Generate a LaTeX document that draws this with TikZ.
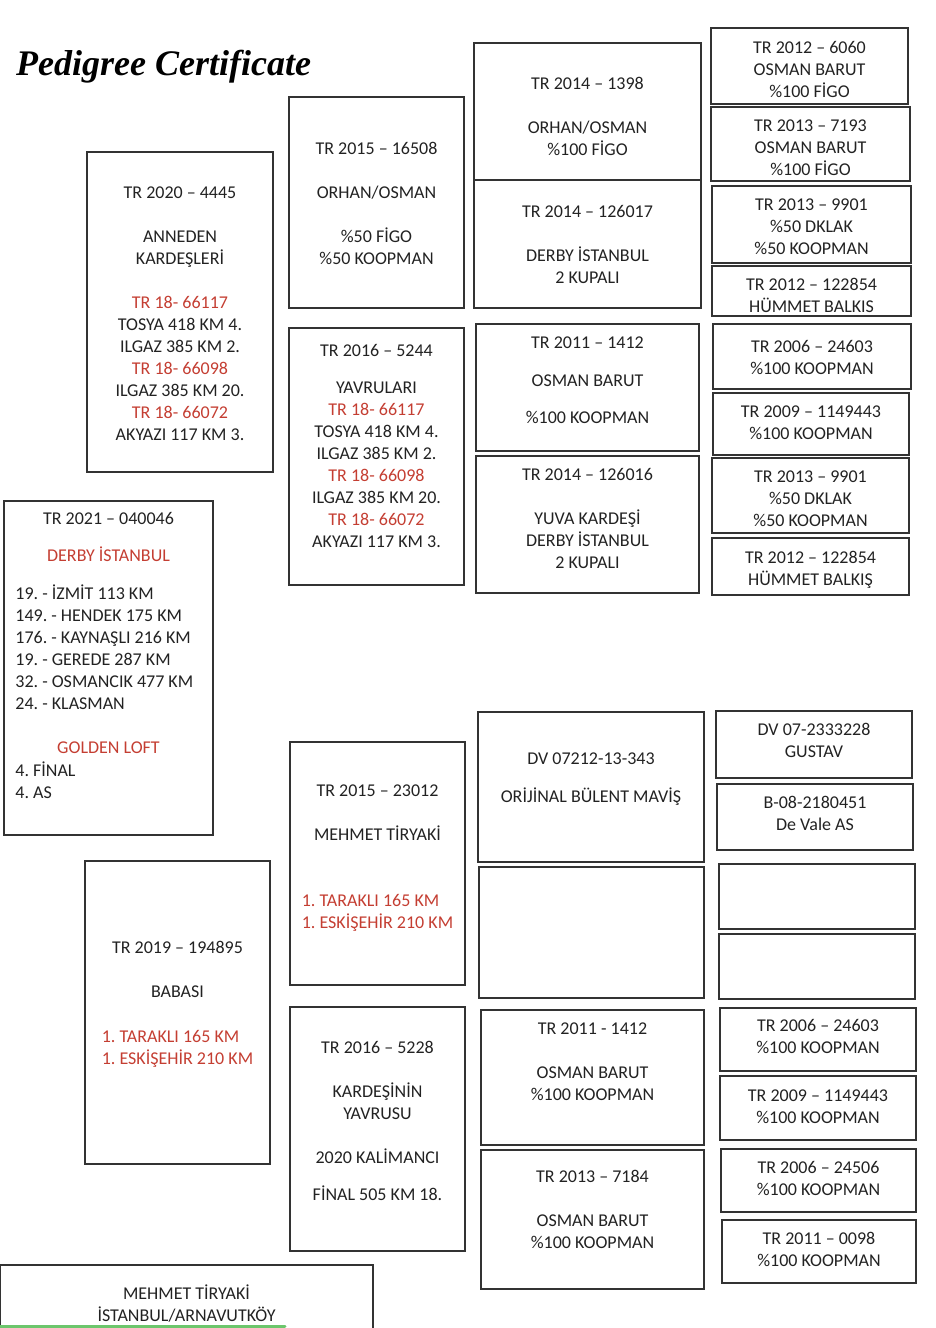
\documentclass[tikz,border=0pt]{standalone}
\usepackage{fontspec}
\setmainfont{Carlito}
\newfontfamily\titlefont{Liberation Serif}
\usetikzlibrary{positioning}

\definecolor{certred}{RGB}{196,62,50}
\definecolor{certgreen}{RGB}{108,198,108}
\definecolor{certink}{RGB}{34,34,34}

\tikzset{
  cell/.style={draw=black!80, line width=1.6pt, inner sep=0pt},
  txt/.style={anchor=north, inner sep=0pt, align=center, text=certink,
    font=\fontsize{18}{22}\selectfont\frenchspacing,
    execute at begin node={\rule{0pt}{15pt}}},
  lst/.style={txt, anchor=north west, align=left},
  heading/.style={anchor=base west, inner sep=0pt,
    font=\titlefont\bfseries\itshape\fontsize{36}{40}\selectfont}
}
\newcommand{\rd}[1]{\textcolor{certred}{#1}}

\begin{document}
\begin{tikzpicture}[x=1pt,y=-1pt]
  \useasboundingbox (0,0) rectangle (936,1328);
  \clip (0,0) rectangle (936,1328);

  % baslik
  \node[heading] (title) at (16,75) {Pedigree Certificate};

  % 1. sutun
  \node[cell, minimum width=186, minimum height=320] (anne) at (180,312) {};
  \node[cell, minimum width=209, minimum height=334] (bird) at (108.5,668) {};
  \node[cell, minimum width=185, minimum height=303] (sire) at (177.5,1012.5) {};
  \node[cell, minimum width=373, minimum height=95] (owner) at (186.5,1312.5) {};

  \node[txt, below=35pt of anne.north] (anneT) {TR 2020 -- 4445\\[22pt]
    ANNEDEN\\KARDEŞLERİ\\[22pt]
    \rd{TR 18- 66117}\\TOSYA 418 KM 4.\\ILGAZ 385 KM 2.\\
    \rd{TR 18- 66098}\\ILGAZ 385 KM 20.\\
    \rd{TR 18- 66072}\\AKYAZI 117 KM 3.};

  \node[txt, below=9pt of bird.north] (birdT) {TR 2021 -- 040046};
  \node[txt, below=46pt of bird.north] (birdR) {\rd{DERBY İSTANBUL}};
  \node[lst, below right=84pt and 12pt of bird.north west] (birdL) {19. - İZMİT 113 KM\\
    149. - HENDEK 175 KM\\176. - KAYNAŞLI 216 KM\\19. - GEREDE 287 KM\\
    32. - OSMANCIK 477 KM\\24. - KLASMAN};
  \node[txt, below=238pt of bird.north] (birdG) {\rd{GOLDEN LOFT}};
  \node[lst, below right=261pt and 12pt of bird.north west] (birdF) {4. FİNAL\\4. AS};

  \node[txt, below=81pt of sire.north] (sireT) {TR 2019 -- 194895\\[22pt]BABASI};
  \node[lst, anchor=north, below=170pt of sire.north] (sireR)
    {\rd{1. TARAKLI 165 KM}\\\rd{1. ESKİŞEHİR 210 KM}};

  \node[txt, below=20pt of owner.north] (ownerT) {MEHMET TİRYAKİ\\İSTANBUL/ARNAVUTKÖY};

  % 2. sutun
  \node[cell, minimum width=175, minimum height=211] (s1) at (376.5,202.5) {};
  \node[cell, minimum width=175, minimum height=257] (s2) at (376.5,456.5) {};
  \node[cell, minimum width=175, minimum height=243] (d1) at (377.5,863.5) {};
  \node[cell, minimum width=175, minimum height=244] (d2) at (377.5,1129) {};

  \node[txt, below=46pt of s1.north] (s1T) {TR 2015 -- 16508\\[22pt]
    ORHAN/OSMAN\\[22pt]\%50 FİGO\\\%50 KOOPMAN};
  \node[txt, below=17pt of s2.north] (s2T) {TR 2016 -- 5244\\[15pt]
    YAVRULARI\\\rd{TR 18- 66117}\\TOSYA 418 KM 4.\\ILGAZ 385 KM 2.\\
    \rd{TR 18- 66098}\\ILGAZ 385 KM 20.\\
    \rd{TR 18- 66072}\\AKYAZI 117 KM 3.};
  \node[txt, below=43pt of d1.north] (d1T) {TR 2015 -- 23012\\[22pt]MEHMET TİRYAKİ};
  \node[lst, anchor=north, below=153pt of d1.north] (d1R)
    {\rd{1. TARAKLI 165 KM}\\\rd{1. ESKİŞEHİR 210 KM}};
  \node[txt, below=35pt of d2.north] (d2T) {TR 2016 -- 5228\\[22pt]
    KARDEŞİNİN\\YAVRUSU\\[22pt]2020 KALİMANCI\\[15pt]FİNAL 505 KM 18.};

  % 3. sutun
  \node[cell, minimum width=227, minimum height=137] (g1) at (587.5,111.5) {};
  \node[cell, minimum width=227, minimum height=128] (g2) at (587.5,244) {};
  \node[cell, minimum width=223, minimum height=127] (g3) at (587.5,387.5) {};
  \node[cell, minimum width=223, minimum height=137] (g4) at (587.5,524.5) {};
  \node[cell, minimum width=226, minimum height=150] (g5) at (591,787) {};
  \node[cell, minimum width=225, minimum height=131] (g6) at (591.5,932.5) {};
  \node[cell, minimum width=223, minimum height=135] (g7) at (592.5,1077.5) {};
  \node[cell, minimum width=223, minimum height=139] (g8) at (592.5,1219.5) {};

  \node[txt, below=35pt of g1.north] (g1T) {TR 2014 -- 1398\\[22pt]ORHAN/OSMAN\\\%100 FİGO};
  \node[txt, below=26pt of g2.north] (g2T) {TR 2014 -- 126017\\[22pt]DERBY İSTANBUL\\2 KUPALI};
  \node[txt, below=13pt of g3.north] (g3T) {TR 2011 -- 1412\\[16pt]OSMAN BARUT\\[15pt]\%100 KOOPMAN};
  \node[txt, below=13pt of g4.north] (g4T) {TR 2014 -- 126016\\[22pt]
    YUVA KARDEŞİ\\DERBY İSTANBUL\\2 KUPALI};
  \node[txt, below=41pt of g5.north] (g5T) {DV 07212-13-343\\[16pt]ORİJİNAL BÜLENT MAVİŞ};
  \node[txt, below=13pt of g7.north] (g7T) {TR 2011 - 1412\\[22pt]OSMAN BARUT\\\%100 KOOPMAN};
  \node[txt, below=21pt of g8.north] (g8T) {TR 2013 -- 7184\\[22pt]OSMAN BARUT\\\%100 KOOPMAN};

  % 4. sutun
  \node[cell, minimum width=197, minimum height=76] (h1) at (809.5,66) {};
  \node[cell, minimum width=199, minimum height=74] (h2) at (810.5,144) {};
  \node[cell, minimum width=199, minimum height=77] (h3) at (811.5,224.5) {};
  \node[cell, minimum width=199, minimum height=50] (h4) at (811.5,291) {};
  \node[cell, minimum width=198, minimum height=65] (h5) at (812,356.5) {};
  \node[cell, minimum width=196, minimum height=62] (h6) at (811,424) {};
  \node[cell, minimum width=197, minimum height=75] (h7) at (810.5,495.5) {};
  \node[cell, minimum width=197, minimum height=57] (h8) at (810.5,566.5) {};
  \node[cell, minimum width=196, minimum height=67] (h9) at (814,744.5) {};
  \node[cell, minimum width=196, minimum height=66] (h10) at (815,817) {};
  \node[cell, minimum width=196, minimum height=65] (h11) at (817,896.5) {};
  \node[cell, minimum width=196, minimum height=65] (h12) at (817,966.5) {};
  \node[cell, minimum width=196, minimum height=63] (h13) at (818,1039.5) {};
  \node[cell, minimum width=196, minimum height=64] (h14) at (818,1108) {};
  \node[cell, minimum width=195, minimum height=63] (h15) at (818.5,1180.5) {};
  \node[cell, minimum width=194, minimum height=63] (h16) at (819,1251.5) {};

  \node[txt, below=14pt of h1.north] (h1T) {TR 2012 -- 6060\\OSMAN BARUT\\\%100 FİGO};
  \node[txt, below=13pt of h2.north] (h2T) {TR 2013 -- 7193\\OSMAN BARUT\\\%100 FİGO};
  \node[txt, below=13pt of h3.north] (h3T) {TR 2013 -- 9901\\\%50 DKLAK\\\%50 KOOPMAN};
  \node[txt, below=13pt of h4.north] (h4T) {TR 2012 -- 122854\\HÜMMET BALKIS};
  \node[txt, below=17pt of h5.north] (h5T) {TR 2006 -- 24603\\\%100 KOOPMAN};
  \node[txt, below=13pt of h6.north] (h6T) {TR 2009 -- 1149443\\\%100 KOOPMAN};
  \node[txt, below=13pt of h7.north] (h7T) {TR 2013 -- 9901\\\%50 DKLAK\\\%50 KOOPMAN};
  \node[txt, below=14pt of h8.north] (h8T) {TR 2012 -- 122854\\HÜMMET BALKIŞ};
  \node[txt, below=13pt of h9.north] (h9T) {DV 07-2333228\\GUSTAV};
  \node[txt, below=13pt of h10.north] (h10T) {B-08-2180451\\De Vale AS};
  \node[txt, below=12pt of h13.north] (h13T) {TR 2006 -- 24603\\\%100 KOOPMAN};
  \node[txt, below=14pt of h14.north] (h14T) {TR 2009 -- 1149443\\\%100 KOOPMAN};
  \node[txt, below=13pt of h15.north] (h15T) {TR 2006 -- 24506\\\%100 KOOPMAN};
  \node[txt, below=13pt of h16.north] (h16T) {TR 2011 -- 0098\\\%100 KOOPMAN};

  % alt yesil cizgi
  \draw[certgreen, line width=3pt, line cap=round] (0,1326.5) -- (285,1326.5);
\end{tikzpicture}
\end{document}
